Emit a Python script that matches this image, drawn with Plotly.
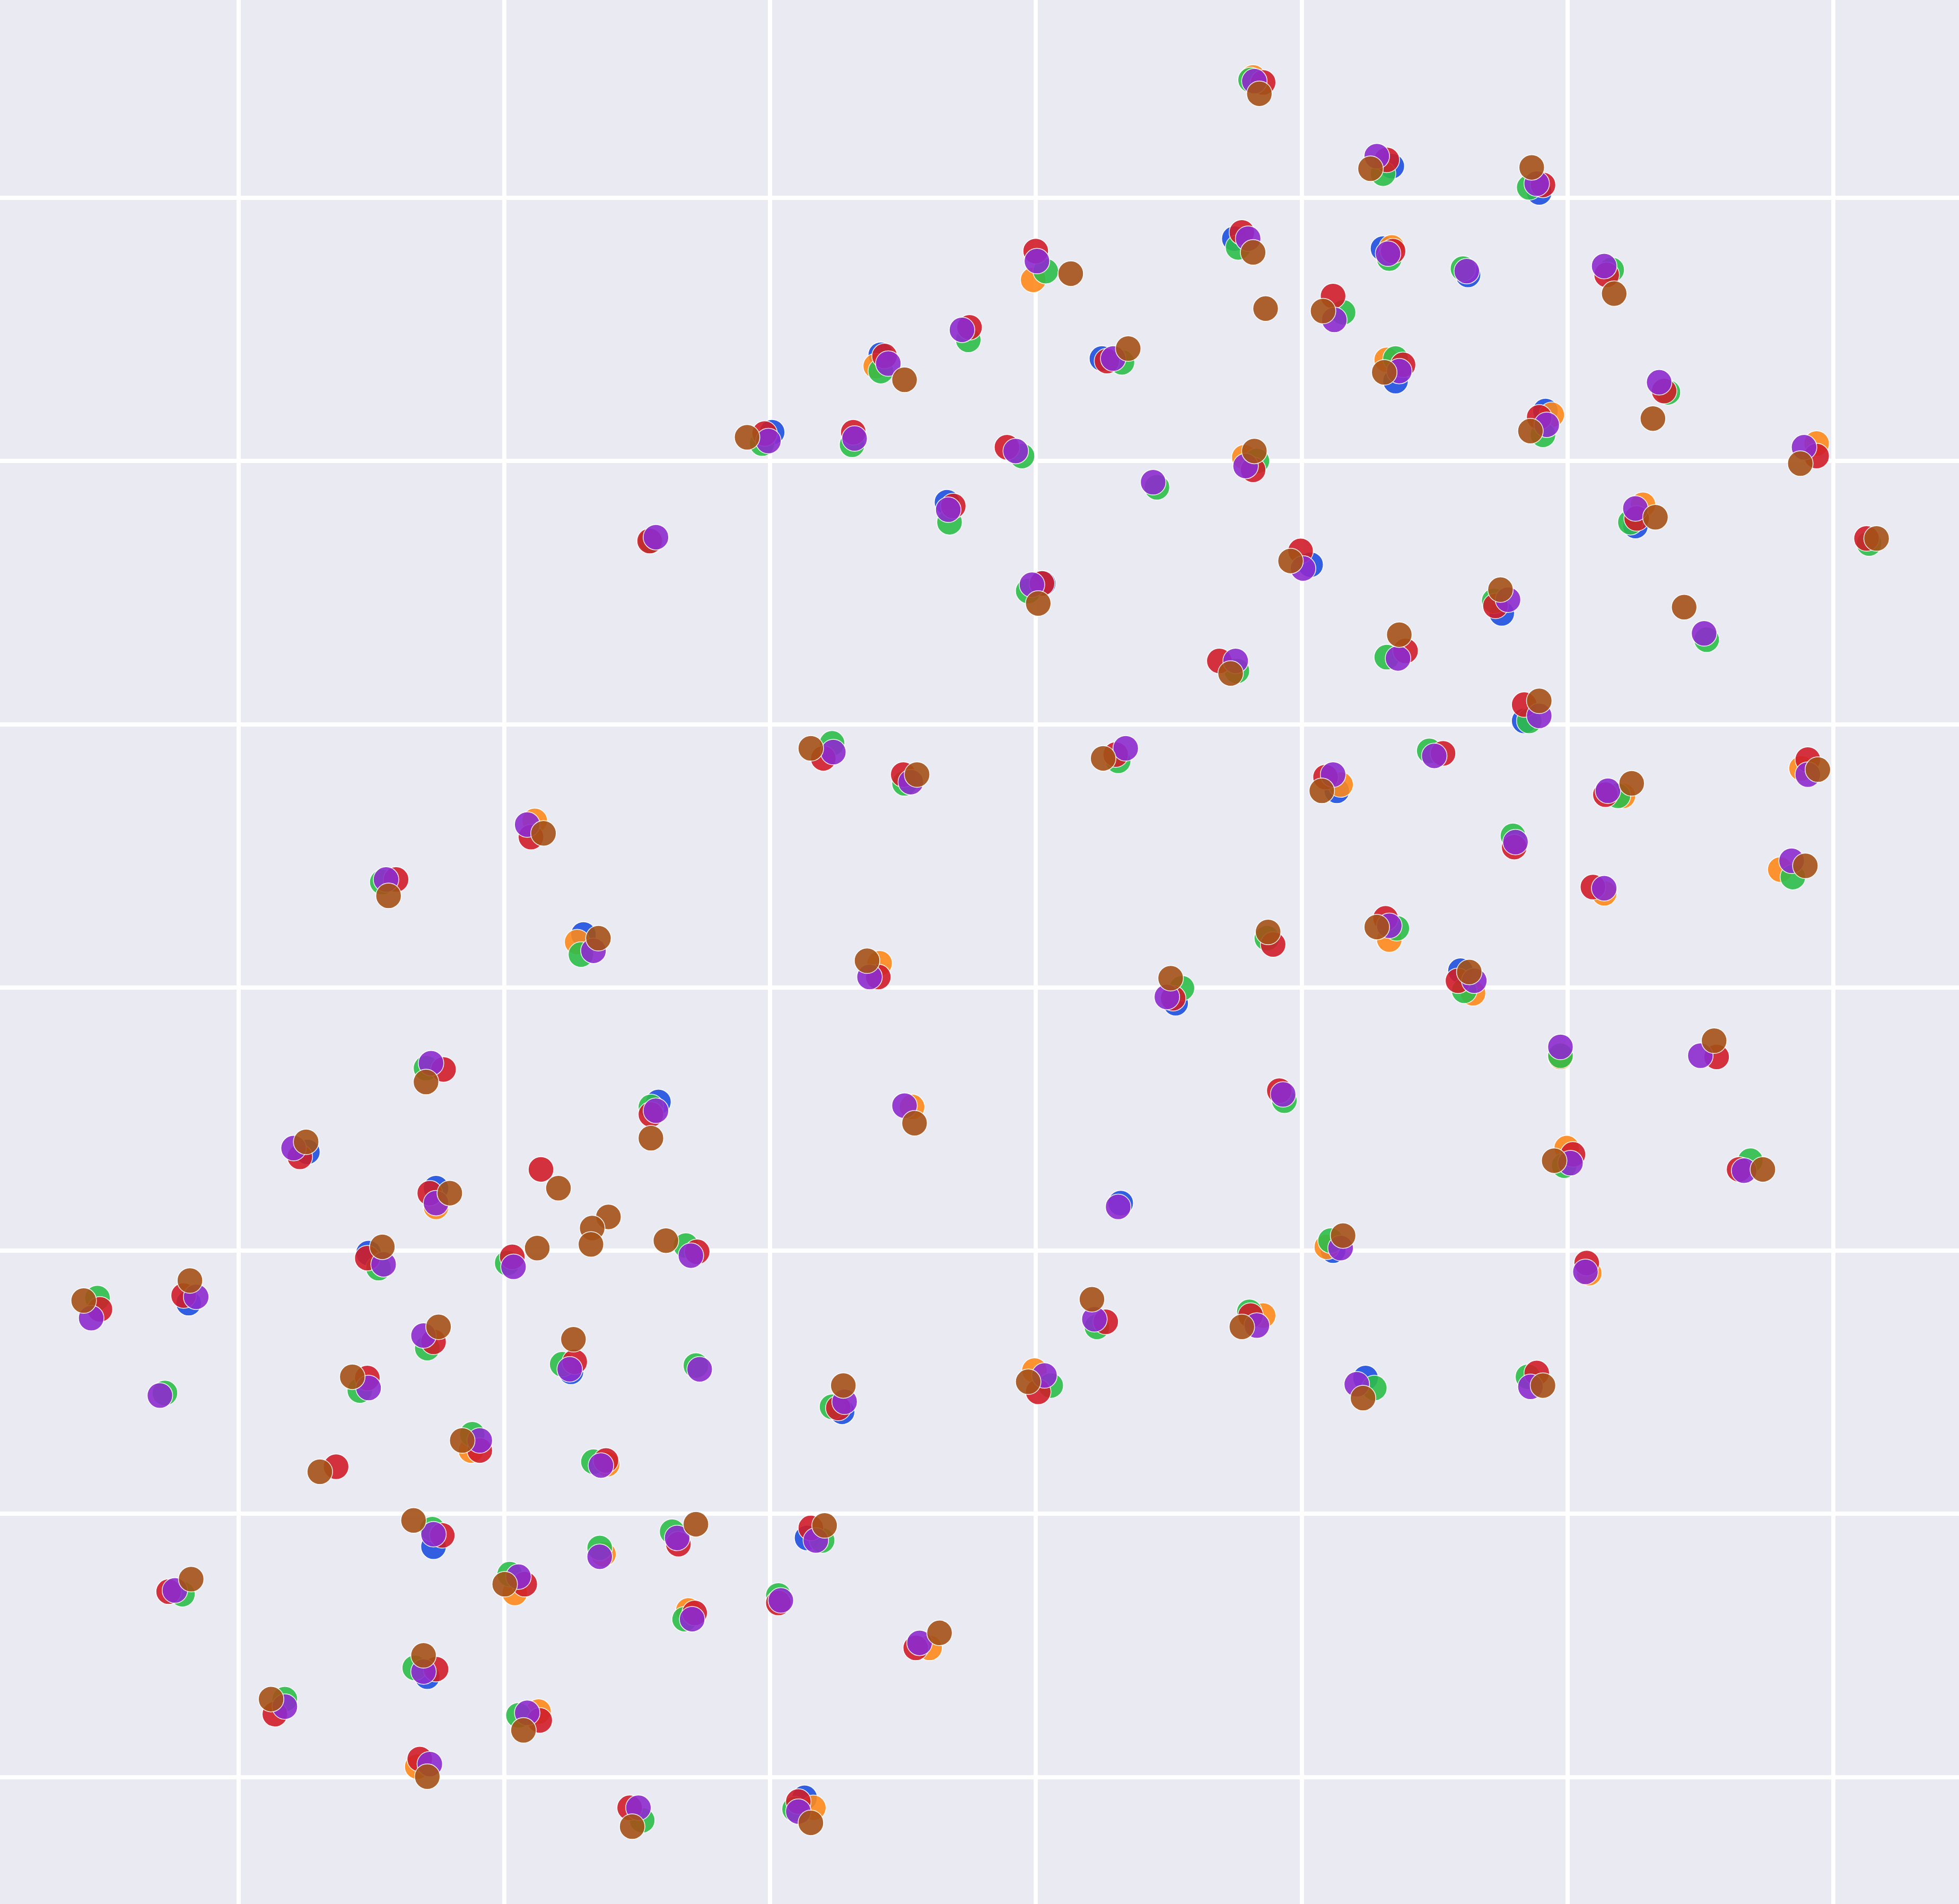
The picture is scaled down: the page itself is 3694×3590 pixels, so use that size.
import plotly.graph_objects as go

# Point positions (x to the right, y downward in the same units)
blue_x = [988, 705, 882, 618, 758, 835, 1114, 1232, 1107, 1175, 1117, 1237, 1309, 1049, 1202,
          1220, 1070, 1169, 1067, 1093, 941, 897, 467, 246, 349, 295, 527, 151, 457, 347, 342,
          674, 646, 644]
blue_y = [191, 284, 287, 346, 402, 467, 133, 154, 199, 220, 305, 329, 421, 452, 491,
          577, 633, 777, 1001, 1103, 803, 963, 748, 922, 951, 1003, 882, 1043, 1098, 1238, 1342,
          1130, 1231, 1439]

orange_x = [1003, 827, 701, 996, 1114, 1110, 1242, 1454, 1315, 1073, 1299, 1442, 1425, 1284,
            1112, 1179, 1249, 1254, 1062, 1272, 704, 730, 428, 462, 349, 377, 486, 483, 412,
            431, 334, 828, 1011, 551, 744, 651]
orange_y = [62, 224, 293, 366, 198, 288, 332, 355, 404, 628, 637, 615, 696, 715,
            752, 795, 846, 919, 998, 1019, 771, 886, 657, 754, 966, 1161, 1172, 1244, 1275,
            1370, 1414, 1097, 1053, 1289, 1319, 1447]

green_x = [1001, 837, 991, 775, 705, 898, 610, 682, 818, 1006, 926, 760, 823, 521,
           1107, 1224, 1112, 1171, 1075, 1117, 1235, 1290, 1335, 1305, 1496, 1196,
           1110, 1366, 1224, 1144, 1211, 1295, 1435, 1118, 1172, 1249, 1252, 1401, 1065,
           1100, 1223, 990, 666, 724, 895, 1014, 946, 1028, 549, 306, 465, 341, 406, 303,
           521, 78, 132, 342, 450, 288, 378, 475, 346, 480, 408, 146, 332, 228, 415, 514,
           557, 666, 841, 878, 1000, 538, 658, 548, 623, 636]
green_y = [64, 217, 198, 272, 297, 290, 355, 356, 365, 369, 390, 418, 473, 433,
           139, 150, 207, 215, 250, 287, 348, 216, 314, 418, 435, 481,
           526, 512, 577, 601, 669, 637, 702, 743, 793, 845, 933, 929, 993,
           1111, 1102, 537, 595, 627, 609, 751, 791, 881, 997, 706, 764, 855, 1011, 1015,
           886, 1039, 1115, 1079, 1092, 1113, 1148, 1170, 1224, 1239, 1260, 1276, 1335, 1360, 1373, 1457,
           1093, 1126, 1109, 1062, 1050, 1226, 1233, 1296, 1277, 1448]

red_x = [1011, 829, 994, 776, 708, 886, 612, 683, 806, 1003, 763, 834, 520,
         1110, 1235, 1115, 1067, 1123, 1232, 1286, 1332, 1454, 1310, 1494, 1041, 1197,
         1125, 1220, 1155, 1061, 1212, 1285, 1447, 1275, 1109, 1167, 1374, 1259, 1392, 1270,
         1230, 976, 659, 723, 893, 703, 1019, 939, 1024, 558, 425, 317, 355, 240, 344,
         433, 410, 294, 521, 80, 147, 347, 460, 294, 384, 269, 485, 354, 420, 135, 349,
         220, 432, 336, 504, 671, 831, 885, 1001, 543, 649, 556, 623, 733, 639]
red_y = [66, 201, 186, 262, 285, 289, 347, 346, 358, 376, 405, 467, 433,
         128, 148, 201, 237, 292, 334, 220, 313, 365, 415, 431, 441, 485,
         521, 564, 603, 622, 678, 636, 608, 710, 735, 785, 846, 924, 936, 1011,
         1099, 529, 607, 620, 604, 782, 756, 799, 873, 1002, 670, 704, 856, 926, 955,
         936, 1006, 1007, 892, 1048, 1037, 1074, 1090, 1103, 1161, 1174, 1169, 1229, 1268, 1274, 1336,
         1372, 1377, 1408, 1447, 1127, 1114, 1058, 1053, 1236, 1223, 1291, 1283, 1319, 1442]

purple_x = [1004, 830, 999, 770, 711, 891, 615, 684, 813, 997, 923, 759, 826, 525,
            1102, 1230, 1111, 1174, 1068, 1120, 1238, 1284, 1328, 1444, 1309, 1043, 1207,
            1119, 1364, 1232, 1148, 1067, 1213, 1287, 1447, 1434, 1284, 1112, 1180, 1249,
            1361, 1257, 1396, 1073, 1269, 1086, 1225, 989, 667, 729, 901, 696, 934, 724,
            1027, 895, 553, 422, 309, 475, 345, 235, 349, 411, 307, 525, 73, 157, 128,
            339, 456, 295, 384, 481, 347, 480, 415, 140, 339, 228, 422, 344, 511, 560,
            676, 836, 876, 1006, 542, 653, 554, 625, 736, 639]
purple_y = [65, 209, 191, 264, 291, 287, 353, 351, 361, 373, 386, 408, 468, 430,
            125, 147, 203, 217, 256, 297, 340, 213, 306, 358, 407, 455, 480,
            527, 507, 573, 605, 620, 674, 633, 620, 689, 711, 741, 785, 838,
            845, 931, 937, 999, 1018, 1108, 1110, 529, 602, 626, 599, 782, 798, 885,
            876, 966, 1005, 660, 704, 761, 851, 919, 963, 1014, 1012, 889, 1055, 1038, 1117,
            1069, 1096, 1111, 1153, 1173, 1228, 1246, 1262, 1273, 1338, 1366, 1371, 1412, 1447, 1096,
            1122, 1101, 1056, 1061, 1231, 1233, 1296, 1281, 1315, 1450]

brown_x = [1008, 857, 1003, 1013, 724, 903, 598, 1004, 831,
           1097, 1226, 1059, 1108, 1225, 1292, 1323, 1441, 1325, 1502, 1033, 1201, 1348,
           1120, 1232, 1058, 1306, 1455, 1445, 1102, 1176, 1372, 1244, 1411, 1075, 1091, 1235,
           985, 649, 734, 883, 694, 1015, 937, 732, 533,
           435, 311, 479, 341, 245, 360, 447, 487, 474, 473, 430, 306, 521,
           67, 152, 351, 459, 282, 370, 256, 331, 404, 153, 339, 217, 419, 342, 506,
           675, 823, 874, 994, 557, 660, 752, 649]
brown_y = [75, 219, 202, 247, 304, 279, 350, 361, 483,
           135, 134, 249, 298, 345, 235, 335, 371, 414, 431, 449, 472, 486,
           508, 561, 633, 627, 616, 693, 742, 778, 833, 929, 936, 989, 1119, 1109,
           539, 599, 620, 607, 769, 746, 783, 899, 993,
           667, 717, 751, 866, 914, 955, 951, 974, 983, 996, 999, 998, 911,
           1041, 1025, 1062, 1072, 1102, 1153, 1178, 1217, 1268, 1264, 1325, 1360, 1385, 1422, 1462,
           1109, 1106, 1040, 1062, 1220, 1221, 1307, 1459]

series = [
    ("A", blue_x, blue_y, "#1F50E0"),
    ("B", orange_x, orange_y, "#FF8A1C"),
    ("C", green_x, green_y, "#2DBE4A"),
    ("D", red_x, red_y, "#D01E2A"),
    ("E", purple_x, purple_y, "#8E2BCF"),
    ("F", brown_x, brown_y, "#A55218"),
]

fig = go.Figure()
for name, xs, ys, col in series:
    fig.add_trace(go.Scatter(
        x=xs, y=ys, mode="markers", name=name,
        marker=dict(size=48, color=col, opacity=0.9,
                    line=dict(color="white", width=1.5)),
        showlegend=False,
    ))

fig.update_layout(
    width=3694, height=3590,
    margin=dict(l=0, r=0, t=0, b=0),
    plot_bgcolor="#EAEAF2", paper_bgcolor="#EAEAF2",
    showlegend=False,
)
fig.update_xaxes(range=[0, 1568], tick0=190.8, dtick=212.8, showticklabels=False,
                 showgrid=True, gridcolor="white", gridwidth=8, zeroline=False,
                 showline=False, ticks="")
fig.update_yaxes(range=[1524, 0], tick0=158.4, dtick=210.67, showticklabels=False,
                 showgrid=True, gridcolor="white", gridwidth=8, zeroline=False,
                 showline=False, ticks="")

fig.write_html("out.html", config={"displayModeBar": False},
               post_script="document.body.style.margin='0';document.body.style.overflow='hidden';")
